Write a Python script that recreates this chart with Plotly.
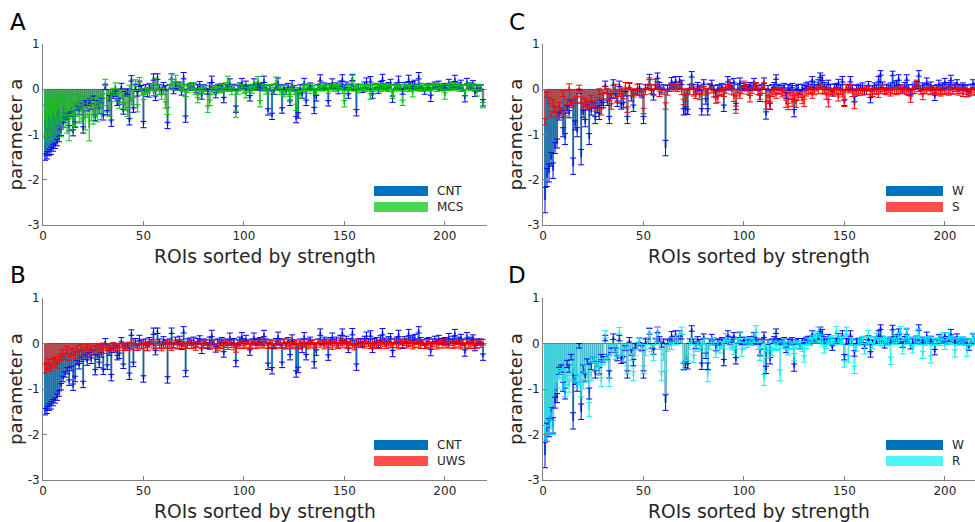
import plotly.graph_objects as go

N = 219
roi = list(range(1, N + 1))

cnt = [-1.50,-1.46,-1.40,-1.36,-1.30,-1.25,-1.18,-1.10,-0.95,-0.78,
 -0.68,-0.60,-0.86,-0.55,-0.96,-0.78,-0.42,-0.50,-0.35,-0.90,
 -0.30,-0.42,-0.25,-0.38,-0.20,-0.63,-0.30,-0.47,-0.25,-0.62,
 0.05,-0.52,-0.20,-0.75,-0.15,-0.10,-0.31,-0.27,0.07,-0.50,
 -0.10,-0.05,-0.72,0.24,-0.46,0.05,-0.10,0.12,0.03,-0.78,
 0.05,-0.10,0.08,0.03,0.27,-0.20,0.28,0.05,-0.05,0.10,
 0.03,-0.80,0.05,0.28,-0.05,0.08,0.03,0.10,-0.08,0.30,
 -0.66,0.05,0.06,0.02,0.08,-0.03,0.05,0.12,-0.16,0.05,
 0.02,-0.06,0.08,0.22,0.03,-0.13,0.05,0.02,0.08,-0.24,
 0.05,0.02,0.16,0.03,0.05,-0.44,0.03,0.08,0.17,0.05,
 0.12,0.03,-0.20,0.05,0.16,0.03,0.05,0.08,0.03,0.22,
 0.05,-0.50,0.03,-0.60,-0.06,0.05,0.18,0.03,-0.47,0.05,
 -0.06,0.08,-0.30,0.12,0.03,-0.67,-0.58,0.05,-0.14,0.17,
 -0.30,0.05,0.08,0.03,-0.47,-0.20,0.05,0.25,0.03,0.08,
 0.05,-0.31,0.08,0.16,0.05,0.08,-0.05,0.12,0.25,0.05,
 0.10,-0.15,0.05,0.26,0.02,-0.52,0.05,0.05,-0.02,0.10,
 0.18,0.05,0.22,-0.15,0.05,0.08,-0.03,0.12,0.26,0.07,
 0.03,0.10,0.16,-0.22,0.05,0.08,0.22,0.05,-0.05,0.10,
 0.05,0.24,0.08,0.12,0.14,0.05,0.30,0.08,0.02,-0.06,
 0.05,0.08,-0.20,0.05,0.10,0.05,0.12,0.03,0.05,0.08,
 0.03,0.16,0.05,0.10,0.24,0.05,0.08,0.15,0.03,-0.21,
 0.18,0.05,0.08,0.14,-0.10,0.05,0.03,0.05,-0.30]

cnt_err = [0.07,0.08,0.07,0.08,0.07,0.06,0.07,0.06,0.07,0.06,
 0.06,0.07,0.06,0.05,0.07,0.06,0.05,0.06,0.05,0.07,
 0.05,0.06,0.05,0.06,0.05,0.06,0.05,0.06,0.05,0.06,
 0.06,0.05,0.06,0.07,0.05,0.06,0.05,0.06,0.06,0.05,
 0.05,0.06,0.07,0.06,0.05,0.06,0.05,0.06,0.05,0.07,
 0.05,0.06,0.05,0.06,0.07,0.05,0.06,0.05,0.06,0.05,
 0.05,0.07,0.05,0.06,0.05,0.06,0.05,0.06,0.05,0.07,
 0.07,0.05,0.06,0.05,0.06,0.05,0.06,0.05,0.06,0.05,
 0.06,0.05,0.06,0.07,0.05,0.06,0.05,0.06,0.05,0.06,
 0.05,0.06,0.07,0.05,0.06,0.07,0.05,0.06,0.07,0.05,
 0.06,0.05,0.06,0.05,0.07,0.05,0.06,0.05,0.06,0.07,
 0.05,0.07,0.05,0.07,0.05,0.06,0.07,0.05,0.06,0.05,
 0.06,0.05,0.06,0.07,0.05,0.07,0.06,0.05,0.06,0.07,
 0.06,0.05,0.06,0.05,0.07,0.06,0.05,0.07,0.05,0.06,
 0.05,0.06,0.05,0.07,0.05,0.06,0.05,0.06,0.07,0.05,
 0.06,0.05,0.06,0.07,0.05,0.07,0.05,0.06,0.05,0.06,
 0.07,0.05,0.06,0.05,0.06,0.05,0.06,0.05,0.07,0.05,
 0.06,0.05,0.06,0.07,0.05,0.06,0.07,0.05,0.06,0.05,
 0.05,0.07,0.06,0.05,0.06,0.05,0.07,0.05,0.06,0.05,
 0.06,0.05,0.07,0.05,0.06,0.05,0.06,0.05,0.06,0.05,
 0.05,0.06,0.05,0.06,0.07,0.05,0.06,0.05,0.06,0.07,
 0.06,0.05,0.06,0.05,0.06,0.05,0.06,0.05,0.07]

mcs = [-0.70,-0.85,-0.60,-0.75,-0.55,-0.65,-0.50,-0.45,-0.80,-0.40,
 -0.55,-0.70,-0.85,-0.40,-0.60,-0.55,-0.35,-0.45,-0.50,-0.40,
 -0.65,-0.40,-0.85,-0.45,-0.55,-0.40,-0.50,-0.35,-0.45,-0.30,
 0.15,-0.28,-0.50,-0.20,-0.05,0.08,-0.15,-0.35,-0.10,-0.22,
 -0.38,-0.50,0.02,-0.28,-0.10,0.14,-0.42,0.20,-0.06,-0.15,
 -0.05,-0.03,-0.10,0.05,-0.08,0.17,0.02,-0.05,-0.16,-0.05,
 -0.35,-0.48,0.05,0.28,0.05,0.24,0.10,0.05,0.06,0.03,
 -0.10,0.00,0.05,0.08,0.03,-0.05,-0.24,-0.05,0.03,-0.03,
 0.02,-0.44,-0.30,-0.05,0.02,-0.03,0.00,0.05,-0.02,0.03,
 0.08,0.22,0.03,-0.05,0.02,-0.55,-0.05,0.03,0.05,-0.02,
 -0.13,0.03,0.05,-0.02,0.03,0.08,0.22,-0.32,0.05,0.03,
 -0.05,0.02,0.05,-0.03,0.05,0.20,0.03,-0.05,0.02,-0.10,
 0.03,-0.05,-0.22,0.02,-0.05,-0.40,-0.02,-0.13,0.03,0.05,
 0.02,0.04,-0.03,0.05,0.02,-0.05,0.03,0.06,0.02,0.05,
 0.03,-0.02,0.05,0.03,0.05,0.02,0.04,0.06,-0.03,-0.32,
 0.02,0.05,0.03,0.24,0.02,0.05,-0.02,0.03,0.05,0.02,
 0.04,0.03,-0.16,0.02,0.05,0.03,0.06,0.02,0.04,0.05,
 0.03,0.02,0.05,-0.13,0.03,0.06,0.02,0.04,-0.30,0.03,
 0.05,0.02,0.04,-0.10,0.03,0.05,0.02,0.06,0.03,0.05,
 0.02,0.04,0.03,0.06,0.05,0.02,0.07,0.03,0.05,-0.15,
 0.04,0.06,0.03,0.08,0.05,0.03,0.06,0.02,0.04,-0.08,
 0.05,0.07,0.03,0.06,0.04,-0.08,0.05,0.02,-0.35]

mcs_err = [0.35,0.30,0.40,0.35,0.30,0.30,0.25,0.30,0.25,0.30,
 0.30,0.27,0.29,0.25,0.30,0.27,0.25,0.30,0.22,0.25,
 0.25,0.22,0.29,0.25,0.22,0.20,0.22,0.20,0.22,0.20,
 0.07,0.08,0.10,0.08,0.07,0.06,0.08,0.07,0.08,0.07,
 0.08,0.10,0.07,0.07,0.08,0.07,0.08,0.06,0.07,0.08,
 0.07,0.06,0.08,0.07,0.06,0.07,0.06,0.07,0.06,0.07,
 0.07,0.08,0.06,0.07,0.06,0.07,0.06,0.07,0.06,0.07,
 0.06,0.07,0.06,0.07,0.06,0.07,0.06,0.07,0.06,0.07,
 0.06,0.07,0.06,0.07,0.06,0.07,0.06,0.07,0.06,0.07,
 0.06,0.07,0.06,0.07,0.06,0.07,0.06,0.07,0.06,0.07,
 0.06,0.07,0.06,0.07,0.06,0.07,0.06,0.07,0.06,0.07,
 0.06,0.07,0.06,0.07,0.06,0.07,0.06,0.07,0.06,0.07,
 0.06,0.07,0.06,0.07,0.06,0.07,0.06,0.07,0.06,0.07,
 0.06,0.07,0.06,0.07,0.06,0.07,0.06,0.07,0.06,0.07,
 0.06,0.07,0.06,0.07,0.06,0.07,0.06,0.07,0.06,0.07,
 0.06,0.07,0.06,0.07,0.06,0.07,0.06,0.07,0.06,0.07,
 0.06,0.07,0.06,0.07,0.06,0.07,0.06,0.07,0.06,0.07,
 0.06,0.07,0.06,0.07,0.06,0.07,0.06,0.07,0.06,0.07,
 0.06,0.07,0.06,0.07,0.06,0.07,0.06,0.07,0.06,0.07,
 0.06,0.07,0.06,0.07,0.06,0.07,0.06,0.07,0.06,0.07,
 0.06,0.07,0.06,0.07,0.06,0.07,0.06,0.07,0.06,0.07,
 0.06,0.07,0.06,0.07,0.06,0.07,0.06,0.07,0.06]

uws = [-0.55,-0.50,-0.45,-0.52,-0.42,-0.38,-0.45,-0.35,-0.30,-0.22,
 -0.28,-0.15,-0.30,-0.20,-0.18,-0.25,-0.12,-0.20,-0.10,-0.22,
 -0.15,-0.08,-0.18,-0.12,-0.20,-0.10,-0.15,-0.08,-0.12,-0.05,
 -0.10,-0.15,-0.06,-0.10,-0.04,-0.08,-0.12,-0.05,-0.02,-0.08,
 -0.05,-0.10,-0.03,-0.07,0.02,-0.05,-0.09,-0.03,-0.06,0.03,
 -0.04,-0.08,-0.02,0.03,-0.06,-0.03,0.02,-0.05,-0.10,-0.04,
 -0.02,0.03,-0.05,-0.08,-0.03,0.02,-0.06,-0.04,0.03,-0.02,
 -0.05,-0.03,0.02,-0.06,-0.04,-0.08,-0.02,0.03,-0.05,-0.03,
 0.02,-0.04,-0.07,-0.03,0.02,-0.05,-0.10,-0.04,-0.02,0.03,
 -0.03,-0.06,0.02,-0.04,-0.08,-0.12,-0.05,-0.03,0.02,-0.04,
 -0.02,0.03,-0.05,-0.03,0.02,-0.06,-0.04,0.03,-0.02,-0.05,
 0.02,-0.04,-0.03,0.03,-0.06,-0.02,0.02,-0.05,-0.03,0.03,
 -0.04,-0.02,0.03,-0.05,-0.03,0.02,-0.06,-0.04,0.02,-0.03,
 0.03,-0.05,-0.02,0.02,-0.04,-0.06,0.03,-0.03,0.02,-0.05,
 -0.02,0.03,-0.04,-0.06,0.02,-0.03,-0.05,0.03,-0.02,0.02,
 -0.04,-0.03,0.02,-0.05,-0.08,0.03,-0.02,-0.04,0.02,-0.03,
 0.03,-0.02,-0.05,0.02,-0.03,-0.06,0.02,-0.04,0.03,-0.02,
 -0.05,0.02,-0.03,-0.04,0.03,-0.02,-0.06,0.02,-0.03,0.03,
 -0.04,-0.02,0.02,-0.05,-0.03,0.03,-0.02,-0.04,0.02,-0.06,
 -0.03,0.02,-0.04,-0.02,0.03,-0.05,-0.03,0.02,-0.04,0.03,
 -0.02,-0.05,0.02,-0.03,-0.04,0.03,-0.02,-0.05,0.02,-0.03,
 0.03,-0.04,-0.02,0.02,-0.05,-0.03,0.02,-0.04,0.03]

uws_err = [0.10,0.09,0.10,0.08,0.09,0.08,0.09,0.08,0.07,0.08,
 0.07,0.08,0.07,0.08,0.07,0.08,0.07,0.06,0.07,0.08,
 0.07,0.06,0.07,0.06,0.07,0.06,0.07,0.06,0.07,0.06,
 0.06,0.07,0.06,0.05,0.06,0.07,0.06,0.05,0.06,0.07,
 0.06,0.05,0.06,0.07,0.06,0.05,0.06,0.07,0.06,0.05,
 0.06,0.07,0.06,0.05,0.06,0.07,0.06,0.05,0.06,0.07,
 0.06,0.05,0.06,0.07,0.06,0.05,0.06,0.07,0.06,0.05,
 0.06,0.07,0.06,0.05,0.06,0.07,0.06,0.05,0.06,0.07,
 0.06,0.05,0.06,0.07,0.06,0.05,0.06,0.07,0.06,0.05,
 0.06,0.07,0.06,0.05,0.06,0.07,0.06,0.05,0.06,0.07,
 0.06,0.05,0.06,0.07,0.06,0.05,0.06,0.07,0.06,0.05,
 0.06,0.07,0.06,0.05,0.06,0.07,0.06,0.05,0.06,0.07,
 0.06,0.05,0.06,0.07,0.06,0.05,0.06,0.07,0.06,0.05,
 0.06,0.07,0.06,0.05,0.06,0.07,0.06,0.05,0.06,0.07,
 0.06,0.05,0.06,0.07,0.06,0.05,0.06,0.07,0.06,0.05,
 0.06,0.07,0.06,0.05,0.06,0.07,0.06,0.05,0.06,0.07,
 0.06,0.05,0.06,0.07,0.06,0.05,0.06,0.07,0.06,0.05,
 0.06,0.07,0.06,0.05,0.06,0.07,0.06,0.05,0.06,0.07,
 0.06,0.05,0.06,0.07,0.06,0.05,0.06,0.07,0.06,0.05,
 0.06,0.07,0.06,0.05,0.06,0.07,0.06,0.05,0.06,0.07,
 0.06,0.05,0.06,0.07,0.06,0.05,0.06,0.07,0.06,0.05,
 0.06,0.07,0.06,0.05,0.06,0.07,0.06,0.05,0.06]

w = [-2.45,-1.95,-1.85,-1.55,-1.80,-1.30,-1.20,-0.60,-0.55,-0.95,
 -1.10,-0.45,-0.55,-0.30,-1.70,-0.80,-0.95,-0.05,-1.50,-0.55,
 -0.75,-0.40,-1.10,-0.50,-0.35,-0.68,-0.45,-0.60,-0.30,-0.35,
 0.12,-0.30,-0.68,-0.15,0.15,-0.15,-0.32,0.12,-0.38,-0.35,
 -0.10,-0.68,0.08,-0.20,-0.42,-0.05,-0.08,0.07,-0.10,-0.68,
 0.05,0.05,0.27,-0.05,-0.18,0.05,0.30,0.10,-0.03,0.05,
 -1.30,0.03,0.05,0.20,0.10,0.22,0.05,0.22,0.15,-0.50,
 -0.46,-0.50,0.05,0.33,0.05,-0.05,0.10,0.03,-0.50,0.16,
 -0.27,-0.50,0.05,0.14,0.03,-0.10,0.05,0.03,0.08,-0.42,
 0.05,0.22,0.03,0.08,0.19,-0.38,0.05,0.19,0.03,0.08,
 0.03,0.05,0.10,0.03,0.19,0.06,0.03,-0.20,0.05,0.19,
 -0.58,0.03,-0.38,0.05,0.09,0.27,0.05,0.03,0.03,0.08,
 -0.14,0.05,0.03,0.08,-0.53,0.03,0.05,-0.07,0.05,0.03,
 0.08,0.11,0.05,0.23,0.10,0.05,0.15,0.31,0.25,0.10,
 0.05,0.15,0.05,-0.10,0.05,0.08,0.16,0.05,0.22,-0.30,
 0.05,0.03,0.22,0.05,-0.22,0.03,0.05,0.03,0.08,-0.06,
 0.03,0.12,-0.24,0.03,0.08,0.05,0.22,0.36,0.10,-0.05,
 0.05,0.03,0.08,0.35,0.10,0.14,0.26,0.05,-0.03,0.10,
 0.26,0.05,-0.06,0.05,0.08,0.12,0.35,0.03,0.08,0.05,
 0.19,0.05,0.10,0.03,-0.19,0.05,0.14,0.05,0.08,0.19,
 0.05,0.10,0.25,0.05,0.08,0.16,0.05,0.03,0.08,0.05,
 0.03,-0.10,0.05,0.16,0.05,0.08,0.03,0.05,0.10]

w_err = [0.28,0.20,0.20,0.15,0.17,0.12,0.10,0.08,0.08,0.10,
 0.12,0.08,0.08,0.06,0.18,0.10,0.10,0.05,0.17,0.08,
 0.08,0.06,0.12,0.07,0.06,0.08,0.06,0.07,0.06,0.06,
 0.06,0.06,0.08,0.05,0.06,0.05,0.06,0.06,0.06,0.06,
 0.05,0.08,0.05,0.06,0.07,0.05,0.05,0.05,0.05,0.08,
 0.05,0.05,0.06,0.05,0.06,0.05,0.06,0.05,0.05,0.05,
 0.17,0.05,0.05,0.06,0.05,0.06,0.05,0.06,0.05,0.07,
 0.07,0.06,0.05,0.06,0.05,0.06,0.05,0.06,0.07,0.05,
 0.06,0.07,0.05,0.06,0.05,0.06,0.05,0.06,0.05,0.07,
 0.05,0.06,0.05,0.06,0.05,0.07,0.05,0.06,0.05,0.06,
 0.05,0.06,0.05,0.06,0.05,0.06,0.05,0.07,0.05,0.06,
 0.08,0.05,0.07,0.05,0.06,0.05,0.06,0.05,0.06,0.05,
 0.06,0.05,0.06,0.05,0.08,0.05,0.06,0.05,0.06,0.05,
 0.06,0.05,0.06,0.05,0.06,0.05,0.06,0.05,0.06,0.05,
 0.06,0.05,0.06,0.05,0.06,0.05,0.06,0.05,0.06,0.06,
 0.06,0.05,0.06,0.05,0.06,0.05,0.06,0.05,0.06,0.05,
 0.06,0.05,0.06,0.05,0.06,0.05,0.06,0.05,0.06,0.05,
 0.06,0.05,0.06,0.05,0.06,0.05,0.06,0.05,0.06,0.05,
 0.06,0.05,0.06,0.05,0.06,0.05,0.06,0.05,0.06,0.05,
 0.06,0.05,0.06,0.05,0.06,0.05,0.06,0.05,0.06,0.05,
 0.06,0.05,0.06,0.05,0.06,0.05,0.06,0.05,0.06,0.05,
 0.06,0.05,0.06,0.05,0.06,0.05,0.06,0.05,0.06]

s = [-0.72,-0.12,-0.25,-0.55,-0.30,-0.45,-0.55,-0.35,-0.48,-0.10,
 -0.52,-0.28,0.05,-0.35,-0.30,-0.25,-0.22,0.03,-0.24,-0.38,
 -0.28,-0.32,-0.35,-0.20,-0.32,-0.42,-0.25,-0.05,-0.50,-0.15,
 0.00,-0.04,-0.18,-0.38,-0.12,0.05,-0.22,-0.10,-0.04,-0.15,
 0.08,-0.45,0.08,-0.08,-0.10,-0.05,0.04,-0.08,-0.12,-0.48,
 -0.05,0.05,0.18,0.03,-0.06,0.16,0.10,-0.10,-0.04,0.03,
 -0.37,-0.07,0.02,0.06,0.03,0.05,0.02,0.08,-0.05,-0.28,
 -0.20,-0.04,-0.05,0.06,-0.08,-0.14,-0.05,-0.17,-0.03,0.00,
 -0.06,-0.04,0.06,-0.02,-0.10,-0.25,-0.22,-0.08,-0.05,-0.10,
 -0.02,0.05,0.14,-0.05,-0.20,-0.45,-0.08,-0.14,-0.03,0.12,
 0.03,-0.05,-0.21,-0.03,0.05,0.09,-0.05,-0.16,-0.02,0.08,
 -0.36,-0.20,-0.36,-0.10,-0.05,-0.14,-0.03,-0.05,-0.10,-0.08,
 -0.32,-0.38,-0.15,-0.30,-0.20,-0.32,-0.17,-0.12,-0.25,-0.30,
 -0.08,-0.05,-0.02,-0.14,-0.05,0.02,-0.03,0.06,-0.02,-0.05,
 -0.15,-0.31,-0.05,-0.04,-0.08,-0.03,-0.19,-0.05,-0.10,-0.30,
 0.03,-0.02,0.03,-0.10,-0.35,-0.05,-0.07,-0.03,-0.06,0.02,
 -0.04,0.02,-0.05,-0.10,-0.03,-0.05,-0.11,-0.04,0.02,-0.03,
 -0.05,-0.02,-0.08,-0.04,-0.03,-0.06,-0.02,-0.04,0.02,-0.03,
 -0.05,-0.08,-0.22,-0.04,-0.02,0.14,0.02,-0.05,-0.16,-0.04,
 -0.03,0.02,-0.05,-0.03,0.00,-0.04,-0.05,-0.09,-0.03,-0.06,
 -0.02,-0.07,-0.03,-0.05,0.02,-0.04,-0.06,-0.03,-0.09,-0.05,
 -0.10,-0.04,-0.06,-0.02,-0.05,-0.08,-0.03,-0.04,-0.02]

s_err = [0.07,0.06,0.07,0.06,0.07,0.06,0.07,0.06,0.07,0.06,
 0.07,0.06,0.07,0.06,0.07,0.06,0.07,0.06,0.07,0.06,
 0.07,0.06,0.07,0.06,0.07,0.06,0.07,0.06,0.07,0.06,
 0.07,0.06,0.07,0.06,0.07,0.06,0.07,0.06,0.07,0.06,
 0.07,0.06,0.07,0.06,0.07,0.06,0.07,0.06,0.07,0.06,
 0.07,0.06,0.07,0.06,0.07,0.06,0.07,0.06,0.07,0.06,
 0.07,0.06,0.07,0.06,0.07,0.06,0.07,0.06,0.07,0.06,
 0.07,0.06,0.07,0.06,0.07,0.06,0.07,0.06,0.07,0.06,
 0.07,0.06,0.07,0.06,0.07,0.06,0.07,0.06,0.07,0.06,
 0.07,0.06,0.07,0.06,0.07,0.08,0.07,0.06,0.07,0.06,
 0.07,0.06,0.07,0.06,0.07,0.06,0.07,0.06,0.07,0.06,
 0.08,0.06,0.08,0.06,0.07,0.06,0.07,0.06,0.07,0.06,
 0.08,0.07,0.07,0.08,0.07,0.08,0.07,0.06,0.07,0.08,
 0.07,0.06,0.07,0.06,0.07,0.06,0.07,0.06,0.07,0.06,
 0.07,0.08,0.07,0.06,0.07,0.06,0.07,0.06,0.07,0.08,
 0.07,0.06,0.07,0.06,0.08,0.06,0.07,0.06,0.07,0.06,
 0.07,0.06,0.07,0.06,0.07,0.06,0.07,0.06,0.07,0.06,
 0.07,0.06,0.07,0.06,0.07,0.06,0.07,0.06,0.07,0.06,
 0.07,0.06,0.07,0.06,0.07,0.06,0.07,0.06,0.07,0.06,
 0.07,0.06,0.07,0.06,0.07,0.06,0.07,0.06,0.07,0.06,
 0.07,0.06,0.07,0.06,0.07,0.06,0.07,0.06,0.07,0.06,
 0.07,0.06,0.07,0.06,0.07,0.06,0.07,0.06,0.07]

r = [-1.95,-2.05,-1.60,-1.70,-1.85,-0.95,-0.85,-0.70,-0.65,-0.90,
 -1.05,-0.80,-0.95,-0.70,-0.55,-0.75,-0.85,-0.80,-1.05,-0.90,
 -0.55,-0.75,-1.45,-0.72,-0.35,-0.50,-0.45,-0.60,-0.85,-0.40,
 0.20,-0.30,-0.85,-0.20,-0.10,-0.28,-0.20,0.28,-0.18,-0.32,
 -0.10,-0.58,-0.15,-0.30,-0.72,-0.20,-0.05,0.05,-0.10,-0.58,
 -0.20,0.05,0.28,-0.10,-0.30,0.05,0.28,-0.05,-0.72,-0.30,
 -0.85,-0.10,-0.05,-0.06,0.05,0.10,0.05,0.20,0.28,-0.50,
 -0.30,-0.30,-0.05,0.05,-0.34,-0.10,-0.05,-0.10,-0.03,0.05,
 -0.20,-0.72,-0.05,0.03,0.05,-0.24,-0.05,-0.14,-0.03,-0.05,
 0.14,0.03,-0.02,-0.07,-0.16,-0.05,0.03,0.16,-0.20,-0.05,
 0.03,-0.02,0.05,0.03,0.10,0.32,-0.05,-0.30,-0.03,-0.80,
 -0.08,-0.24,-0.05,-0.20,-0.03,-0.08,-0.05,-0.70,-0.03,0.03,
 -0.05,-0.18,-0.03,-0.06,-0.30,-0.05,-0.02,-0.03,-0.10,-0.34,
 -0.03,0.05,0.03,0.10,0.18,0.08,0.28,0.12,0.05,-0.14,
 -0.03,0.05,0.08,0.10,0.05,0.30,0.10,0.05,0.08,-0.45,
 0.28,-0.34,0.05,0.03,-0.58,-0.10,0.05,0.03,0.08,-0.16,
 0.05,0.22,0.08,-0.05,0.05,0.16,0.05,0.02,0.03,0.08,
 0.05,0.03,-0.38,0.05,0.10,0.05,0.15,0.30,-0.15,0.05,
 0.26,0.08,0.05,-0.14,0.05,0.10,0.24,0.05,-0.25,0.03,
 0.05,0.08,-0.35,0.05,0.03,0.05,0.10,0.03,0.16,-0.06,
 0.05,0.17,0.08,0.05,-0.22,0.03,0.05,0.08,0.05,0.03,
 -0.20,0.05,0.03,0.16,0.05,0.08,0.03,0.10,0.05]

r_err = [0.15,0.10,0.22,0.18,0.15,0.12,0.12,0.10,0.10,0.12,
 0.12,0.10,0.12,0.10,0.08,0.10,0.12,0.10,0.12,0.10,
 0.08,0.10,0.15,0.10,0.07,0.08,0.08,0.10,0.10,0.07,
 0.08,0.07,0.10,0.07,0.08,0.07,0.08,0.07,0.08,0.07,
 0.08,0.09,0.07,0.08,0.10,0.07,0.08,0.07,0.08,0.09,
 0.07,0.08,0.07,0.08,0.07,0.08,0.07,0.08,0.10,0.07,
 0.25,0.07,0.08,0.07,0.08,0.07,0.08,0.07,0.08,0.09,
 0.08,0.07,0.08,0.07,0.08,0.07,0.08,0.07,0.08,0.07,
 0.08,0.12,0.08,0.07,0.08,0.07,0.08,0.07,0.08,0.07,
 0.08,0.07,0.08,0.07,0.08,0.07,0.08,0.07,0.08,0.07,
 0.08,0.07,0.08,0.07,0.08,0.07,0.08,0.07,0.08,0.12,
 0.08,0.07,0.08,0.07,0.08,0.07,0.08,0.12,0.08,0.07,
 0.08,0.07,0.08,0.07,0.08,0.07,0.08,0.07,0.08,0.07,
 0.08,0.07,0.08,0.07,0.08,0.07,0.08,0.07,0.08,0.07,
 0.08,0.07,0.08,0.07,0.08,0.07,0.08,0.07,0.08,0.07,
 0.08,0.07,0.08,0.07,0.08,0.07,0.08,0.07,0.08,0.07,
 0.08,0.07,0.08,0.07,0.08,0.07,0.08,0.07,0.08,0.07,
 0.08,0.07,0.08,0.07,0.08,0.07,0.08,0.07,0.08,0.07,
 0.08,0.07,0.08,0.07,0.08,0.07,0.08,0.07,0.08,0.07,
 0.08,0.07,0.08,0.07,0.08,0.07,0.08,0.07,0.08,0.07,
 0.08,0.07,0.08,0.07,0.08,0.07,0.08,0.07,0.08,0.07,
 0.08,0.07,0.08,0.07,0.08,0.07,0.08,0.07,0.08]

x_ticks = [0, 50, 100, 150, 200]
y_ticks = [1, 0, -1, -2, -3]
y_ticktext = ["1", "0", "-1", "-2", "-3"]

panels = [
    ("A", "", cnt, cnt_err, mcs, mcs_err, ("CNT", "MCS"), ("#0072BD", "#4DD64D"), ("#0000FF", "#00C800"), 0.35),
    ("B", "2", cnt, cnt_err, uws, uws_err, ("CNT", "UWS"), ("#0072BD", "#FF4D4D"), ("#0000FF", "#FF0000"), 0.35),
    ("C", "3", w, w_err, s, s_err, ("W", "S"), ("#0072BD", "#FF4D4D"), ("#0000FF", "#FF0000"), 0.35),
    ("D", "4", w, w_err, r, r_err, ("W", "R"), ("#0072BD", "#4DF5F5"), ("#0000FF", "#00F0F0"), 0.12),
]

W_PX, H_PX = 975, 522
def px_x(p):
    return p / W_PX
def px_y(p):
    return 1 - p / H_PX

x_dom = {"": (43, 487), "2": (43, 487), "3": (543, 975), "4": (543, 975)}
y_dom = {"": (44, 225), "2": (298, 480), "3": (44, 225), "4": (298, 480)}
x_rng = {"": [0, 221], "2": [0, 221], "3": [0, 215], "4": [0, 215]}
letter_pos = {"": (18, 22), "2": (18, 275), "3": (517, 22), "4": (517, 275)}

fig = go.Figure()
FONT = "DejaVu Sans"
annotations = []
shapes = []
layout = dict(
    template="none",
    width=W_PX, height=H_PX, margin=dict(l=0, r=0, t=0, b=0, autoexpand=False),
    paper_bgcolor="white", plot_bgcolor="white", barmode="overlay",
    showlegend=False, font=dict(family=FONT, color="#262626"),
)

err_traces = []
for letter, sfx, a, a_err, b, b_err, labels, bcols, ecols, edge_a in panels:
    xa = "x" + sfx
    ya = "y" + sfx
    for vals, lab, col, ea in ((a, labels[0], bcols[0], 0.35), (b, labels[1], bcols[1], edge_a)):
        fig.add_trace(go.Bar(
            x=roi, y=vals, name=lab, width=0.8, xaxis=xa, yaxis=ya,
            marker=dict(color=col, line=dict(color="rgba(0,0,0,%.2f)" % ea, width=0.5)),
        ))
    for vals, errs, lab, col in ((a, a_err, labels[0], ecols[0]), (b, b_err, labels[1], ecols[1])):
        err_traces.append(go.Scatter(
            x=roi, y=vals, mode="markers", name=lab + " error", xaxis=xa, yaxis=ya,
            marker=dict(size=2, color="rgba(0,0,0,0)"),
            error_y=dict(type="data", array=errs, color=col, thickness=1, width=3),
        ))
    x0, x1 = x_dom[sfx]
    y0, y1 = y_dom[sfx]
    layout["xaxis" + sfx] = dict(
        domain=[px_x(x0), px_x(x1)], range=x_rng[sfx], anchor=ya, automargin=False,
        tickvals=x_ticks, ticks="inside", ticklen=4, tickcolor="#808080",
        showline=True, linecolor="#808080", linewidth=1, showgrid=False, zeroline=False,
        tickfont=dict(size=12, color="#262626", family=FONT),
        title=dict(text="ROIs sorted by strength", font=dict(size=18.7, color="#262626", family=FONT), standoff=7),
    )
    layout["yaxis" + sfx] = dict(
        domain=[px_y(y1), px_y(y0)], range=[-3, 1], anchor=xa, automargin=False,
        tickvals=y_ticks, ticktext=y_ticktext, ticks="inside", ticklen=4, tickcolor="#808080",
        showline=True, linecolor="#808080", linewidth=1, showgrid=False,
        zeroline=True, zerolinecolor="#909090", zerolinewidth=1,
        tickfont=dict(size=12, color="#262626", family=FONT),
        title=dict(text="parameter a", font=dict(size=18, color="#262626", family=FONT), standoff=0),
    )
    lx, ly = letter_pos[sfx]
    annotations.append(dict(text=letter, x=px_x(lx), y=px_y(ly), xref="paper", yref="paper",
                            showarrow=False, font=dict(size=23, color="black", family=FONT),
                            xanchor="center", yanchor="middle"))
    if sfx in ("", "2"):
        px0, px1, ptx = 374, 428, 435
    else:
        px0, px1, ptx = 886, 943, 950
    hpx = y1 - y0
    for k, (lab, col) in enumerate(zip(labels, bcols)):
        top = y0 + 142 + 16 * k
        bot = top + 10
        shapes.append(dict(type="rect", xref=xa + " domain", yref=ya + " domain",
                           x0=(px0 - x0) / (x1 - x0), x1=(px1 - x0) / (x1 - x0),
                           y0=(y1 - bot) / hpx, y1=(y1 - top) / hpx,
                           fillcolor=col, line=dict(width=0)))
        annotations.append(dict(text=lab, xref=xa + " domain", yref=ya + " domain",
                                x=(ptx - x0) / (x1 - x0), y=(y1 - (top + 5)) / hpx,
                                showarrow=False, xanchor="left", yanchor="middle",
                                font=dict(size=12, color="#262626", family=FONT)))

for t in err_traces:
    fig.add_trace(t)

layout["annotations"] = annotations
layout["shapes"] = shapes
fig.update_layout(**layout)
fig.write_html("out.html", config={"responsive": False, "displayModeBar": False},
               post_script="document.body.style.margin='0px';document.body.style.overflow='hidden';")
